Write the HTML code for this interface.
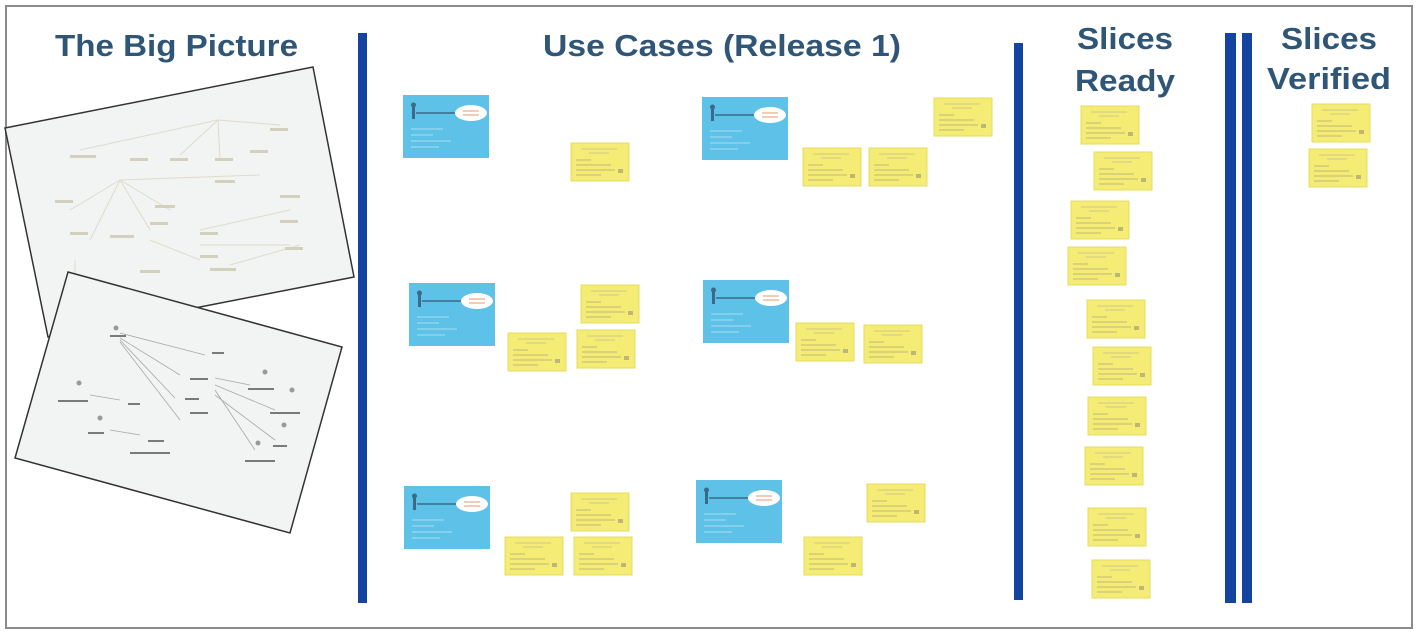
<!DOCTYPE html>
<html><head><meta charset="utf-8"><style>
html,body{margin:0;padding:0;background:#fff;}
svg{display:block;}
.t{font-family:"Liberation Sans",Arial,sans-serif;font-weight:bold;font-size:31px;fill:#2f5677;}
</style></head><body>
<svg width="1420" height="635" viewBox="0 0 1420 635" xmlns="http://www.w3.org/2000/svg">
<defs>
<g id="st">
<rect x="0" y="0" width="58" height="38" fill="#f4ec74"/>
<rect x="0" y="0" width="58" height="38" fill="none" stroke="#e6dc60" stroke-width="1"/>
<line x1="10" y1="6" x2="46" y2="6" stroke="#cfc98a" stroke-width="1"/>
<line x1="18" y1="10" x2="38" y2="10" stroke="#cfc98a" stroke-width="1"/>
<line x1="5" y1="17" x2="20" y2="17" stroke="#bfb87a" stroke-width="1"/>
<line x1="5" y1="22" x2="40" y2="22" stroke="#bfb87a" stroke-width="1"/>
<line x1="5" y1="27" x2="44" y2="27" stroke="#bfb87a" stroke-width="1"/>
<line x1="5" y1="32" x2="30" y2="32" stroke="#bfb87a" stroke-width="1"/>
<rect x="47" y="26" width="5" height="4" fill="#bdb676"/>
</g>
<g id="bc">
<rect x="0" y="0" width="86" height="63" fill="#5ec2e8"/>
<rect x="9" y="12" width="3" height="12" fill="#3a6a88"/>
<circle cx="10.5" cy="10" r="2.5" fill="#3a6a88"/>
<line x1="13" y1="18" x2="52" y2="18" stroke="#3a6a88" stroke-width="1.5"/>
<ellipse cx="68" cy="18" rx="16" ry="8" fill="#fff"/>
<line x1="60" y1="16" x2="76" y2="16" stroke="#e49a70" stroke-width="1"/>
<line x1="60" y1="20" x2="76" y2="20" stroke="#e49a70" stroke-width="1"/>
<line x1="8" y1="34" x2="40" y2="34" stroke="#8fd3ee" stroke-width="1.5"/>
<line x1="8" y1="40" x2="30" y2="40" stroke="#8fd3ee" stroke-width="1.5"/>
<line x1="8" y1="46" x2="48" y2="46" stroke="#8fd3ee" stroke-width="1.5"/>
<line x1="8" y1="52" x2="36" y2="52" stroke="#8fd3ee" stroke-width="1.5"/>
</g>
</defs>
<rect x="6" y="6" width="1406" height="622" fill="#fff" stroke="#8a8a8a" stroke-width="2"/>

<text class="t" x="55" y="56" textLength="243" lengthAdjust="spacingAndGlyphs">The Big Picture</text>
<text class="t" x="543" y="56" textLength="358" lengthAdjust="spacingAndGlyphs">Use Cases (Release 1)</text>
<text class="t" x="1077" y="49" textLength="96" lengthAdjust="spacingAndGlyphs">Slices</text>
<text class="t" x="1075" y="91" textLength="100" lengthAdjust="spacingAndGlyphs">Ready</text>
<text class="t" x="1281" y="49" textLength="96" lengthAdjust="spacingAndGlyphs">Slices</text>
<text class="t" x="1267" y="89" textLength="124" lengthAdjust="spacingAndGlyphs">Verified</text>

<rect x="358" y="33" width="9" height="570" fill="#1544a0"/>
<rect x="1014" y="43" width="9" height="557" fill="#1544a0"/>
<rect x="1225" y="33" width="11" height="570" fill="#1544a0"/>
<rect x="1242" y="33" width="10" height="570" fill="#1544a0"/>

<polygon points="5,128 313,67 354,277 200,307 48,337" fill="#f2f3f3" stroke="#333" stroke-width="1.5"/>
<g stroke="#dedccc" stroke-width="1" fill="none">
<line x1="218" y1="120" x2="80" y2="150"/><line x1="218" y1="120" x2="180" y2="155"/><line x1="218" y1="120" x2="220" y2="160"/>
<line x1="218" y1="120" x2="280" y2="125"/><line x1="120" y1="180" x2="260" y2="175"/><line x1="120" y1="180" x2="70" y2="210"/>
<line x1="120" y1="180" x2="90" y2="240"/><line x1="120" y1="180" x2="150" y2="230"/><line x1="120" y1="180" x2="170" y2="210"/>
<line x1="200" y1="230" x2="290" y2="210"/><line x1="200" y1="245" x2="290" y2="245"/><line x1="150" y1="240" x2="200" y2="260"/>
<line x1="230" y1="265" x2="300" y2="245"/><line x1="75" y1="260" x2="75" y2="280"/>
</g>
<g fill="#d4d0be">
<rect x="70" y="155" width="26" height="3"/><rect x="130" y="158" width="18" height="3"/><rect x="170" y="158" width="18" height="3"/>
<rect x="215" y="158" width="18" height="3"/><rect x="270" y="128" width="18" height="3"/><rect x="250" y="150" width="18" height="3"/>
<rect x="215" y="180" width="20" height="3"/><rect x="55" y="200" width="18" height="3"/><rect x="155" y="205" width="20" height="3"/>
<rect x="280" y="195" width="20" height="3"/><rect x="70" y="232" width="18" height="3"/><rect x="110" y="235" width="24" height="3"/>
<rect x="150" y="222" width="18" height="3"/><rect x="200" y="232" width="18" height="3"/><rect x="280" y="220" width="18" height="3"/>
<rect x="200" y="255" width="18" height="3"/><rect x="140" y="270" width="20" height="3"/><rect x="210" y="268" width="26" height="3"/>
<rect x="285" y="247" width="18" height="3"/><rect x="70" y="280" width="14" height="3"/>
</g>
<polygon points="68,272 342,347 290,533 15,458" fill="#f2f3f3" stroke="#333" stroke-width="1.5"/>
<g stroke="#a8a8a8" stroke-width="0.8" fill="none">
<line x1="120" y1="333" x2="205" y2="355"/><line x1="120" y1="338" x2="180" y2="375"/><line x1="120" y1="340" x2="175" y2="398"/>
<line x1="120" y1="342" x2="180" y2="420"/><line x1="90" y1="395" x2="120" y2="400"/><line x1="110" y1="430" x2="140" y2="435"/>
<line x1="215" y1="378" x2="250" y2="385"/><line x1="215" y1="385" x2="275" y2="410"/><line x1="215" y1="390" x2="255" y2="450"/>
<line x1="215" y1="395" x2="275" y2="440"/>
</g>
<g fill="#7a7a7a">
<rect x="110" y="335" width="16" height="2"/><rect x="58" y="400" width="30" height="2"/><rect x="128" y="403" width="12" height="2"/>
<rect x="88" y="432" width="16" height="2"/><rect x="148" y="440" width="16" height="2"/><rect x="130" y="452" width="40" height="2"/>
<rect x="190" y="378" width="18" height="2"/><rect x="185" y="398" width="14" height="2"/><rect x="190" y="412" width="18" height="2"/>
<rect x="212" y="352" width="12" height="2"/><rect x="248" y="388" width="26" height="2"/><rect x="270" y="412" width="30" height="2"/>
<rect x="273" y="445" width="14" height="2"/><rect x="245" y="460" width="30" height="2"/>
</g>
<g fill="#999">
<circle cx="116" cy="328" r="2.5"/><circle cx="79" cy="383" r="2.5"/><circle cx="100" cy="418" r="2.5"/>
<circle cx="265" cy="372" r="2.5"/><circle cx="292" cy="390" r="2.5"/><circle cx="284" cy="425" r="2.5"/><circle cx="258" cy="443" r="2.5"/>
</g>

<use href="#bc" x="403" y="95"/>
<use href="#bc" x="409" y="283"/>
<use href="#bc" x="404" y="486"/>
<use href="#bc" x="702" y="97"/>
<use href="#bc" x="703" y="280"/>
<use href="#bc" x="696" y="480"/>

<use href="#st" x="571" y="143"/>
<use href="#st" x="803" y="148"/>
<use href="#st" x="869" y="148"/>
<use href="#st" x="934" y="98"/>
<use href="#st" x="581" y="285"/>
<use href="#st" x="508" y="333"/>
<use href="#st" x="577" y="330"/>
<use href="#st" x="796" y="323"/>
<use href="#st" x="864" y="325"/>
<use href="#st" x="571" y="493"/>
<use href="#st" x="505" y="537"/>
<use href="#st" x="574" y="537"/>
<use href="#st" x="867" y="484"/>
<use href="#st" x="804" y="537"/>

<use href="#st" x="1081" y="106"/>
<use href="#st" x="1094" y="152"/>
<use href="#st" x="1071" y="201"/>
<use href="#st" x="1068" y="247"/>
<use href="#st" x="1087" y="300"/>
<use href="#st" x="1093" y="347"/>
<use href="#st" x="1088" y="397"/>
<use href="#st" x="1085" y="447"/>
<use href="#st" x="1088" y="508"/>
<use href="#st" x="1092" y="560"/>

<use href="#st" x="1312" y="104"/>
<use href="#st" x="1309" y="149"/>
</svg>
</body></html>
